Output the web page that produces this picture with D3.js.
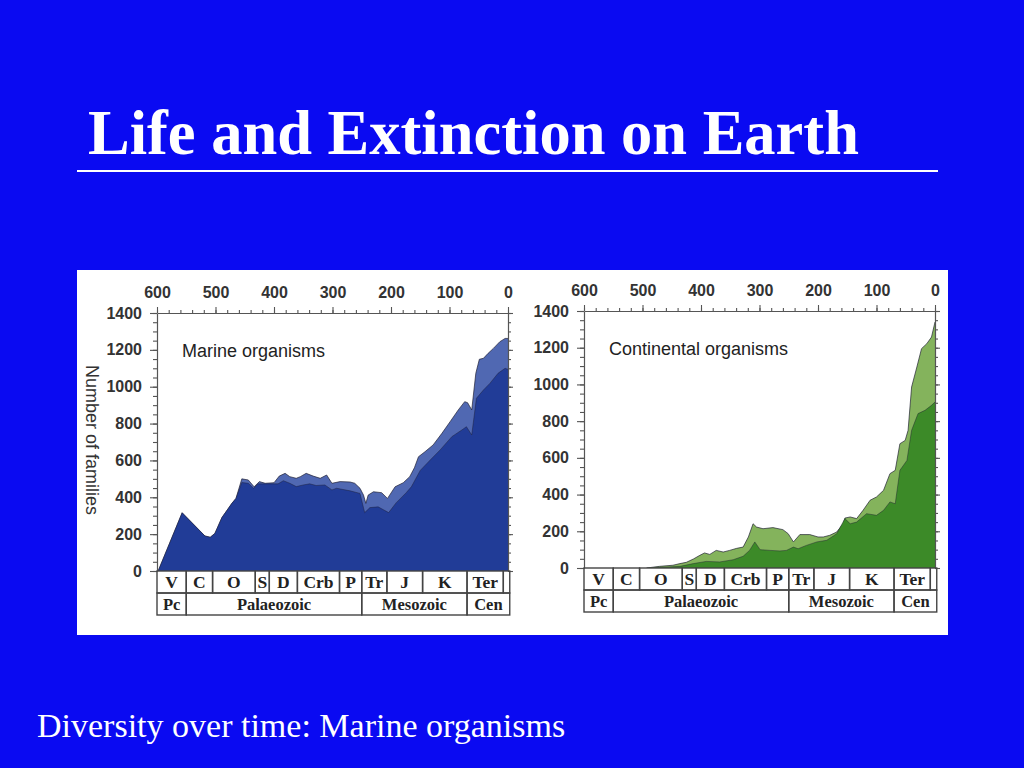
<!DOCTYPE html>
<html>
<head>
<meta charset="utf-8">
<script src="https://cdn.jsdelivr.net/npm/d3@7"></script>
<style>
  html, body { margin: 0; padding: 0; background: #0a0af2; }
  svg { display: block; }
</style>
</head>
<body>
<script>
// ---- data (age in Ma, number of families) ----
const ageTicks = [600, 500, 400, 300, 200, 100, 0];
const familyTicks = [0, 200, 400, 600, 800, 1000, 1200, 1400];

const periods = ['V', 'C', 'O', 'S', 'D', 'Crb', 'P', 'Tr', 'J', 'K', 'Ter', ''];
const periodBounds = [600, 550, 505, 432, 408, 360, 288, 250, 207, 146, 70, 8, -3];
const eras = ['Pc', 'Palaeozoic', 'Mesozoic', 'Cen'];
const eraBounds = [600, 550, 250, 70, -3];

const marineTotal = [
  [598, 0], [557, 316], [518, 190], [509, 183], [501, 204], [489, 290], [472, 367],
  [465, 394], [455, 500], [444, 494], [434, 457], [425, 485], [415, 476], [400, 479],
  [391, 515], [381, 530], [373, 512], [362, 503], [355, 512], [345, 530], [333, 515],
  [321, 503], [310, 521], [301, 476], [287, 485], [270, 483], [262, 476], [253, 449],
  [247, 412], [243, 367], [239, 412], [230, 430], [216, 425], [206, 394], [193, 457],
  [179, 479], [168, 512], [160, 560], [153, 620], [142, 647], [128, 684], [113, 747],
  [99, 810], [85, 874], [74, 919], [69, 913], [62, 874], [55, 1073], [49, 1149],
  [42, 1154], [34, 1181], [25, 1208], [14, 1244], [5, 1262], [0, 1262]
];
const marineLower = [
  [598, 0], [557, 316], [518, 190], [509, 183], [501, 204], [489, 290], [472, 367],
  [465, 394], [455, 480], [444, 476], [435, 449], [427, 473], [393, 473], [384, 490],
  [373, 476], [362, 458], [350, 467], [339, 473], [328, 464], [313, 467], [301, 440],
  [293, 449], [270, 435], [253, 421], [245, 317], [236, 344], [222, 348], [204, 317],
  [191, 371], [174, 425], [165, 458], [150, 546], [133, 602], [116, 657], [96, 729],
  [79, 765], [71, 783], [62, 738], [54, 937], [42, 982], [31, 1018], [17, 1073],
  [5, 1100], [0, 1094]
];

const continentalTotal = [
  [493, 0], [471, 9], [448, 15], [436, 24], [425, 31], [413, 49], [402, 69], [394, 82],
  [385, 74], [374, 96], [362, 87], [351, 96], [339, 107], [328, 114], [319, 169],
  [311, 241], [305, 223], [294, 214], [277, 220], [260, 209], [251, 187], [242, 142],
  [231, 182], [214, 182], [200, 169], [191, 169], [180, 178], [168, 196], [157, 241],
  [154, 272], [145, 278], [134, 269], [123, 314], [111, 369], [100, 387], [88, 423],
  [77, 514], [68, 532], [60, 677], [51, 695], [46, 750], [40, 986], [31, 1095],
  [23, 1195], [14, 1222], [6, 1258], [0, 1340]
];
const continentalLower = [
  [493, 0], [459, 5], [436, 9], [413, 24], [391, 36], [368, 33], [345, 45], [328, 64],
  [317, 96], [308, 142], [299, 100], [282, 96], [265, 93], [254, 96], [242, 114],
  [234, 105], [220, 123], [202, 142], [185, 151], [168, 187], [154, 269], [145, 241],
  [134, 250], [117, 296], [100, 287], [88, 314], [77, 360], [68, 350], [60, 532],
  [48, 586], [40, 750], [29, 841], [17, 859], [6, 886], [0, 904]
];

const width = 1024;
const height = 768;

const svg = d3.select('body').append('svg')
  .attr('width', width)
  .attr('height', height)
  .attr('viewBox', [0, 0, width, height]);

svg.append('rect').attr('width', width).attr('height', height).attr('fill', '#0a0af2');

const sans = '"Liberation Sans", Arial, Helvetica, sans-serif';
const serif = '"Liberation Serif", "Times New Roman", serif';

// title
svg.append('text')
  .attr('x', 88).attr('y', 154)
  .attr('fill', '#fff')
  .style('font-family', serif)
  .style('font-weight', 'bold')
  .style('font-size', '62.5px')
  .text('Life and Extinction on Earth');

svg.append('line')
  .attr('x1', 77).attr('x2', 938)
  .attr('y1', 171).attr('y2', 171)
  .attr('stroke', '#fff').attr('stroke-width', 2);

svg.append('text')
  .attr('x', 37).attr('y', 737)
  .attr('fill', '#fff')
  .style('font-family', serif)
  .style('font-size', '34px')
  .text('Diversity over time: Marine organisms');

// white picture panel
svg.append('rect')
  .attr('x', 77).attr('y', 270)
  .attr('width', 871).attr('height', 365)
  .attr('fill', '#fff');

function drawPanel({ left, right, top, bottom, total, lower, light, dark, label, yTitle, id }) {
  const x = d3.scaleLinear().domain([600, 0]).range([left, right]);
  const y = d3.scaleLinear().domain([0, 1400]).range([bottom, top]);
  const g = svg.append('g');

  g.append('clipPath').attr('id', id)
    .append('rect')
    .attr('x', left).attr('y', top)
    .attr('width', right - left).attr('height', bottom - top);

  const area = d3.area()
    .x((d) => x(d[0]))
    .y0(y(0))
    .y1((d) => y(d[1]));
  const line = d3.line()
    .x((d) => x(d[0]))
    .y((d) => y(d[1]));

  const plot = g.append('g').attr('clip-path', `url(#${id})`);
  plot.append('path').datum(total).attr('d', area).attr('fill', light);
  plot.append('path').datum(total).attr('d', line)
    .attr('fill', 'none').attr('stroke', '#1c1c30').attr('stroke-width', 0.9).attr('stroke-opacity', 0.75);
  plot.append('path').datum(lower).attr('d', area).attr('fill', dark);
  plot.append('path').datum(lower).attr('d', line)
    .attr('fill', 'none').attr('stroke', '#1c1c30').attr('stroke-width', 0.8).attr('stroke-opacity', 0.55);

  const axisColor = '#555';
  const styleAxis = (sel) => {
    sel.selectAll('line').attr('stroke', axisColor).attr('stroke-width', 1.1);
    sel.selectAll('path').attr('stroke', axisColor).attr('stroke-width', 1.2);
    sel.selectAll('text')
      .attr('fill', '#333')
      .style('font-family', sans)
      .style('font-weight', 'bold')
      .style('font-size', '16px');
  };
  const fmt = d3.format('d');

  // top age axis
  g.append('g').attr('transform', `translate(0,${top})`)
    .call(d3.axisTop(x).tickValues(d3.range(0, 601, 20)).tickSize(3).tickFormat('').tickSizeOuter(0))
    .call(styleAxis);
  g.append('g').attr('transform', `translate(0,${top})`)
    .call(d3.axisTop(x).tickValues(ageTicks).tickSize(6).tickPadding(9).tickFormat(fmt).tickSizeOuter(0))
    .call((s) => s.select('.domain').remove())
    .call(styleAxis);

  // left families axis
  g.append('g').attr('transform', `translate(${left},0)`)
    .call(d3.axisLeft(y).tickValues(d3.range(0, 1401, 50)).tickSize(4).tickFormat('').tickSizeOuter(0))
    .call(styleAxis);
  g.append('g').attr('transform', `translate(${left},0)`)
    .call(d3.axisLeft(y).tickValues(familyTicks).tickSize(7).tickPadding(8).tickFormat(fmt).tickSizeOuter(0))
    .call((s) => s.select('.domain').remove())
    .call(styleAxis);

  // right mirror axis
  g.append('g').attr('transform', `translate(${right},0)`)
    .call(d3.axisRight(y).tickValues(d3.range(0, 1401, 50)).tickSize(3).tickFormat('').tickSizeOuter(0))
    .call(styleAxis);
  g.append('g').attr('transform', `translate(${right},0)`)
    .call(d3.axisRight(y).tickValues(familyTicks).tickSize(5).tickFormat('').tickSizeOuter(0))
    .call((s) => s.select('.domain').remove())
    .call(styleAxis);

  // panel label
  g.append('text')
    .attr('x', left + 25).attr('y', top + 44)
    .attr('fill', '#222')
    .style('font-family', sans)
    .style('font-size', '18px')
    .text(label);

  if (yTitle) {
    g.append('text')
      .attr('transform', `translate(${left - 71},${(top + bottom) / 2 - 2}) rotate(90)`)
      .attr('text-anchor', 'middle')
      .attr('fill', '#333')
      .style('font-family', sans)
      .style('font-size', '18px')
      .text(yTitle);
  }

  // geological time table
  const rowH = 22;
  const rows = [
    { names: periods, bounds: periodBounds, size: 17.5, y0: bottom },
    { names: eras, bounds: eraBounds, size: 16.5, y0: bottom + rowH }
  ];
  rows.forEach((row) => {
    const cells = row.names.map((name, i) => ({ name, a: row.bounds[i], b: row.bounds[i + 1] }));
    const rg = g.append('g');
    rg.selectAll('rect').data(cells).join('rect')
      .attr('x', (d) => x(d.a))
      .attr('y', row.y0)
      .attr('width', (d) => x(d.b) - x(d.a))
      .attr('height', rowH)
      .attr('fill', 'none')
      .attr('stroke', '#444')
      .attr('stroke-width', 1.4);
    rg.selectAll('text').data(cells).join('text')
      .attr('x', (d) => (x(d.a) + x(d.b)) / 2)
      .attr('y', row.y0 + rowH - 5)
      .attr('text-anchor', 'middle')
      .attr('fill', '#222')
      .style('font-family', serif)
      .style('font-weight', 'bold')
      .style('font-size', `${row.size}px`)
      .text((d) => d.name);
  });
}

drawPanel({
  id: 'clip-marine',
  left: 157, right: 508, top: 313, bottom: 571,
  total: marineTotal, lower: marineLower,
  light: '#5068b2', dark: '#213c97',
  label: 'Marine organisms',
  yTitle: 'Number of families'
});

drawPanel({
  id: 'clip-continental',
  left: 584, right: 935, top: 311, bottom: 568,
  total: continentalTotal, lower: continentalLower,
  light: '#84b35c', dark: '#3c8a28',
  label: 'Continental organisms'
});
</script>
</body>
</html>
